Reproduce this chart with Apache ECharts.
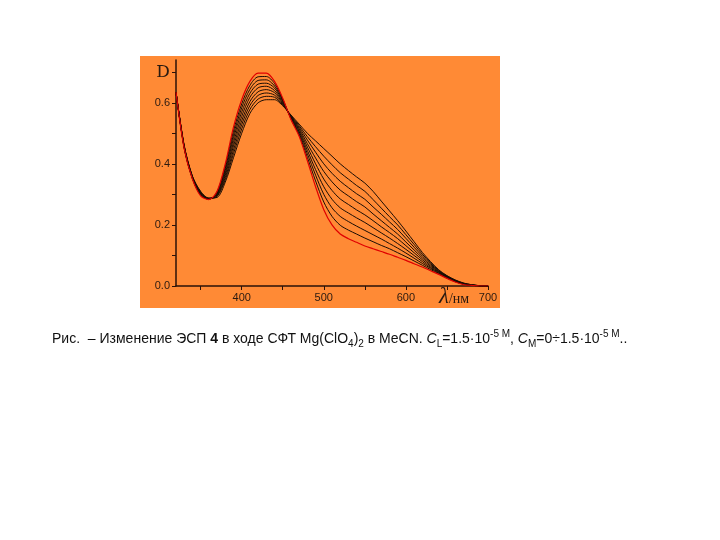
<!DOCTYPE html>
<html><head><meta charset="utf-8">
<script src="https://cdn.jsdelivr.net/npm/echarts@6/dist/echarts.min.js"></script>
<style>html,body{margin:0;padding:0;background:#fff}#c{width:720px;height:540px}</style>
</head><body><div id="c"></div>
<script>
const wavelengths = [320,330,340,350,360,370,380,390,400,410,420,430,440,450,460,470,480,490,500,510,520,530,540,550,560,570,580,590,600,610,620,630,640,650,660,670,680,690,700];
const s0 = [.635,.45,.35,.295,.283,.31,.40,.52,.61,.67,.697,.697,.67,.615,.545,.49,.41,.325,.25,.20,.17,.155,.143,.131,.122,.113,.104,.094,.084,.073,.062,.05,.038,.025,.013,.005,.002,0,0];
const s1 = [.635,.45,.351,.297,.284,.308,.393,.508,.596,.657,.685,.686,.663,.612,.547,.495,.421,.344,.275,.228,.199,.183,.17,.157,.145,.133,.122,.109,.096,.082,.068,.054,.04,.026,.014,.006,.002,0,0];
const s2 = [.635,.452,.352,.299,.284,.305,.385,.495,.583,.644,.673,.675,.655,.609,.549,.50,.433,.363,.30,.256,.228,.211,.196,.182,.168,.154,.139,.124,.108,.091,.074,.058,.042,.027,.015,.006,.003,0,0];
const s3 = [.635,.454,.354,.301,.285,.303,.378,.483,.569,.631,.661,.664,.648,.606,.551,.505,.444,.381,.325,.284,.256,.239,.223,.208,.191,.174,.157,.139,.12,.10,.08,.061,.044,.028,.016,.007,.003,0,0];
const s4 = [.635,.455,.355,.303,.286,.30,.37,.47,.555,.618,.649,.654,.64,.603,.553,.51,.455,.40,.35,.313,.285,.267,.249,.233,.214,.194,.175,.155,.132,.109,.086,.065,.046,.03,.017,.008,.003,.001,0];
const s5 = [.635,.456,.356,.304,.286,.298,.363,.458,.541,.604,.636,.643,.633,.599,.554,.515,.466,.419,.375,.341,.314,.295,.276,.259,.236,.214,.192,.17,.144,.118,.092,.069,.047,.031,.017,.008,.003,.001,0];
const s6 = [.635,.457,.357,.306,.287,.295,.355,.445,.528,.591,.624,.632,.625,.596,.556,.52,.478,.438,.40,.369,.343,.322,.302,.284,.259,.235,.21,.185,.156,.127,.098,.073,.049,.032,.018,.009,.004,.001,0];
const s7 = [.635,.459,.359,.308,.287,.293,.348,.433,.514,.578,.612,.621,.618,.593,.558,.525,.489,.456,.425,.397,.371,.35,.329,.31,.283,.255,.227,.20,.168,.136,.104,.076,.051,.033,.019,.009,.004,.001,0];
const s8 = [.635,.46,.36,.31,.288,.29,.34,.42,.50,.565,.60,.61,.61,.59,.56,.53,.50,.475,.45,.425,.40,.378,.357,.337,.31,.278,.246,.214,.18,.145,.11,.08,.053,.034,.02,.01,.004,.001,0];
const blackSeries = [s1,s2,s3,s4,s5,s6,s7,s8];
const redSeries = s0;
const xTickValues = [350,400,450,500,550,600,650,700];
const xLabelValues = [400,500,600,700];
const yLabelValues = [0,0.2,0.4,0.6];

const pairs = arr => wavelengths.map((w,i)=>[w,arr[i]]);
const series = [];
blackSeries.forEach(s=>series.push({type:'line',data:pairs(s),smooth:0.3,symbol:'none',lineStyle:{color:'#1a0d05',width:1},z:3}));
series.push({type:'line',data:pairs(redSeries),smooth:0.3,symbol:'none',lineStyle:{color:'#e00000',width:1.2},z:4});

const F = 'Liberation Sans, Arial, sans-serif';
const chart = echarts.init(document.getElementById('c'),null,{renderer:'canvas'});
chart.setOption({
  animation:false,
  backgroundColor:'#ffffff',
  grid:{left:176,top:60,width:312,height:226,containLabel:false},
  xAxis:{type:'value',min:320,max:700,
    axisLine:{lineStyle:{color:'#2a1208',width:1.5}},
    axisTick:{customValues:xTickValues,length:4,lineStyle:{color:'#2a1208'}},
    axisLabel:{customValues:xLabelValues,margin:6,color:'#2a1a10',fontSize:11,fontFamily:F},
    splitLine:{show:false}},
  yAxis:{type:'value',min:0,max:0.74,interval:0.1,
    axisLine:{show:true,lineStyle:{color:'#2a1208',width:1.5}},
    axisTick:{show:true,length:4,lineStyle:{color:'#2a1208'}},
    axisLabel:{margin:6,color:'#2a1a10',fontSize:11,fontFamily:F,showMaxLabel:false,
      formatter:v=>{
        const r=Math.round(v*10)/10;
        if (Math.abs(r-0.7)<1e-6) return '{d|D}';
        return yLabelValues.some(t=>Math.abs(t-r)<1e-6)? r.toFixed(1):'';
      },
      rich:{d:{fontFamily:'DejaVu Serif, Liberation Serif, serif',fontSize:17,color:'#2a1a10'}}},
    splitLine:{show:false}},
  graphic:[
    {type:'rect',z:-10,shape:{x:140,y:56,width:360,height:252},style:{fill:'#ff8a35'}},
    {type:'text',z:100,left:439,top:285,style:{
      text:'{l|λ}{u|/нм}',
      rich:{l:{fontFamily:'Liberation Serif, serif',fontSize:23,fontStyle:'italic',fill:'#2a1a10'},
            u:{fontFamily:'Liberation Serif, serif',fontSize:14,fill:'#2a1a10',padding:[6,0,0,0]}}}},
    {type:'text',z:100,left:52,top:329,style:{
      text:'{n|Рис.  – Изменение ЭСП }{b|4}{n| в ходе СФТ Mg(ClO}{s|4}{n|)}{s|2}{n| в MeCN. }{i|C}{s|L}{n|=1.5·10}{p|-5 M}{n|, }{i|C}{s|M}{n|=0÷1.5·10}{p|-5 M}{n|..}',
      rich:{
        n:{fontFamily:F,fontSize:14,fill:'#111',lineHeight:20},
        b:{fontFamily:F,fontSize:14,fontWeight:'bold',fill:'#111',lineHeight:20},
        i:{fontFamily:F,fontSize:14,fontStyle:'italic',fill:'#111',lineHeight:20},
        s:{fontFamily:F,fontSize:10,fill:'#111',verticalAlign:'bottom',lineHeight:20,padding:[8,0,0,0]},
        p:{fontFamily:F,fontSize:10,fill:'#111',verticalAlign:'top',lineHeight:20,padding:[0,0,8,0]}
      }}}
  ],
  series:series
});
</script></body></html>
